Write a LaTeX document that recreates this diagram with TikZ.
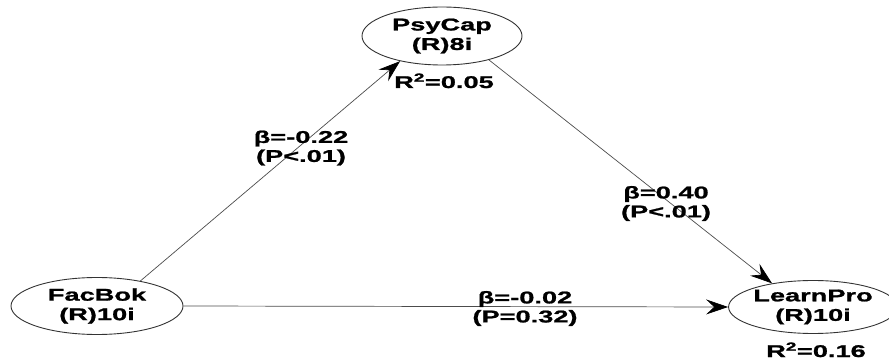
\documentclass[tikz,border=0pt]{standalone}
\usepackage{fontspec}
\setmainfont[FakeStretch=1.6, BoldFeatures={FakeBold=1.2, FakeStretch=1.6}]{Liberation Sans}
\usetikzlibrary{shapes.geometric,arrows.meta}
\begin{document}
\begin{tikzpicture}[x=1pt,y=-1pt,
  latent/.style={ellipse, draw=black!80, line width=0.9pt, inner sep=0pt, align=center,
    font=\bfseries\fontsize{17}{19.5}\selectfont},
  lbl/.style={align=center, inner sep=0pt, font=\bfseries\fontsize{17}{19}\selectfont},
  rsq/.style={inner sep=0pt, anchor=base, font=\bfseries\fontsize{17}{19}\selectfont},
  pathline/.style={draw=black!70, line width=0.7pt,
    -{Stealth[length=22pt,width=15pt,inset=8pt,black]}}
]
\useasboundingbox (0,0) rectangle (889,363);

\node[latent, minimum width=160pt, minimum height=58pt] (pc) at (442,36) {PsyCap\\(R)8i};
\node[latent, minimum width=172pt, minimum height=57pt] (fb) at (97,306) {FacBok\\(R)10i};
\node[latent, minimum width=162pt, minimum height=53pt] (lp) at (813,307) {LearnPro\\(R)10i};

\node[rsq] (r1) at (444,88) {R\textsuperscript{2}=0.05};
\node[rsq] (r2) at (816,357) {R\textsuperscript{2}=0.16};

\draw[pathline] (fb.30) -- (pc.211);
\draw[pathline] (pc.-27) -- (lp.150);
\draw[pathline] (fb.east) -- (lp.west);

\node[lbl] (l1) at (301,148) {β=-0.22\\(P<.01)};
\node[lbl] (l2) at (666,203.5) {β=0.40\\(P<.01)};
\node[lbl] (l3) at (525,308.5) {β=-0.02\\(P=0.32)};
\end{tikzpicture}
\end{document}
